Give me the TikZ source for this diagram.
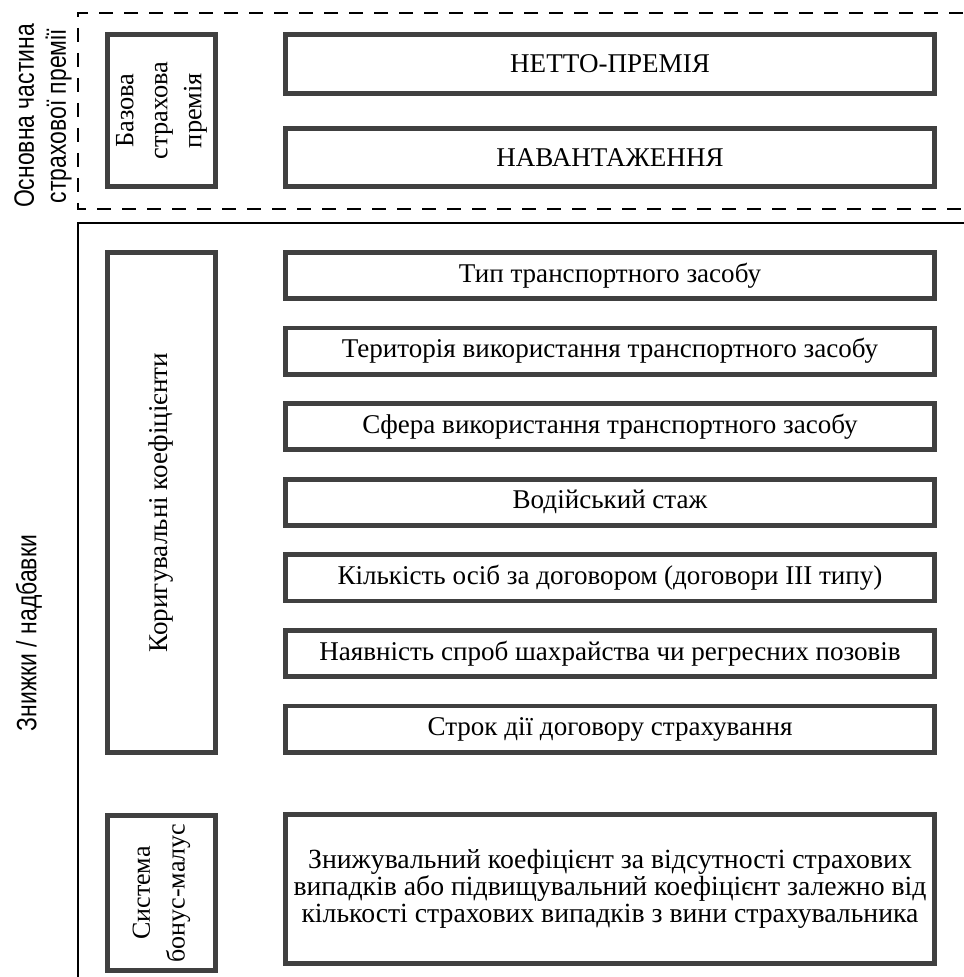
\documentclass[tikz,border=0pt]{standalone}
\usepackage{fontspec}
\setmainfont{Liberation Serif}
\newfontfamily\narrowsans[FakeStretch=0.82]{Liberation Sans}
\newfontfamily\bodyfont{Liberation Serif}
\definecolor{boxgray}{HTML}{404040}
\begin{document}
\begin{tikzpicture}[x=0.75pt,y=-0.75pt,
  box/.style={draw=boxgray, line width=3.6pt, inner sep=0pt, align=center,
    font=\fontsize{20.3}{25.5}\selectfont},
  hbox/.style={box, minimum width=486.9pt},
  vbox/.style={box, rotate=90, minimum height=81.2pt},
  sidelabel/.style={rotate=90, inner sep=0pt, align=center,
    font=\narrowsans\fontsize{21}{24}\selectfont},
  frameline/.style={line width=1.2pt},
  dashframe/.style={line width=1.2pt, dash pattern=on 10.5pt off 8.25pt}]
\useasboundingbox (0,0) rectangle (963,977);

% frames
\draw[dashframe] (963,13) -- (78,13) -- (78,209) -- (963,209);
\draw[frameline] (78,980) -- (78,223) -- (966,223);

% side labels
\node[sidelabel] (mainlbl) at (43,116) {Основна частина\\страхової премії};
\node[sidelabel] (disclbl) at (29,633) {Знижки / надбавки};

% upper group
\node[vbox, minimum width=114.2pt, font=\fontsize{19.8}{25.5}\selectfont] (base) at (161.5,110.5) {Базова\\страхова\\премія};
\node[hbox, minimum height=44.4pt] (netto) at (610,64) {НЕТТО-ПРЕМІЯ};
\node[hbox, minimum height=43.7pt] (navant) at (610,157.5) {НАВАНТАЖЕННЯ};

% correction coefficients
\node[vbox, minimum width=375.2pt, font=\fontsize{20.3}{25.5}\selectfont] (korig) at (161.5,502.5) {Коригувальні коефіцієнти};
\foreach \i/\t in {0/{Тип транспортного засобу},
                   1/{Територія використання транспортного засобу},
                   2/{Сфера використання транспортного засобу},
                   3/{Водійський стаж},
                   4/{Кількість осіб за договором (договори III типу)},
                   5/{Наявність спроб шахрайства чи регресних позовів},
                   6/{Строк дії договору страхування}}{
  \pgfmathsetmacro\yc{250+75.6*\i+25.5}
  \node[hbox, minimum height=34.7pt] (r\i) at (610,\yc) {\t};
}

% bonus-malus
\node[vbox, minimum width=116.4pt, font=\fontsize{19.5}{26}\selectfont] (bonus) at (161.5,893) {Система\\бонус-малус};
\node[hbox, minimum height=111.9pt, font=\bodyfont\fontsize{20.8}{20}\selectfont] (bm) at (610,889)
  {Знижувальний коефіцієнт за відсутності страхових\\
   випадків або підвищувальний коефіцієнт залежно від\\
   кількості страхових випадків з вини страхувальника};
\end{tikzpicture}
\end{document}
